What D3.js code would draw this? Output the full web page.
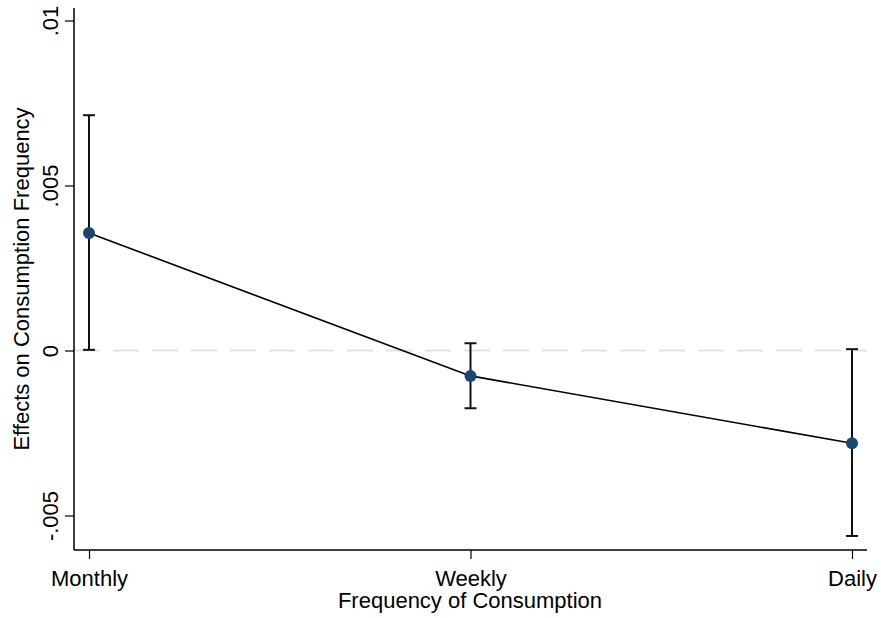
<!DOCTYPE html>
<head>
  <meta charset="utf-8">
  <script src="https://d3js.org/d3.v7.min.js"></script>
  <style>
    body { margin:0; background:#fff; }
    svg { display:block; }
    text { font-family: "Liberation Sans", Arial, sans-serif; fill:#000; }
  </style>
</head>

<body>
  <script>
    // data
    var categories = ["Monthly", "Weekly", "Daily"],
        estimates = [0.00356, -0.00077, -0.00281],
        lower = [0.00002, -0.00175, -0.00562],
        upper = [0.00713, 0.00022, 0.00004],
        yTicks = [-0.005, 0, 0.005, 0.01],
        yTickLabels = ["-.005", "0", ".005", ".01"];

    var W = 881, H = 618,
        plotLeft = 74, plotRight = 867, plotTop = 8, plotBottom = 550,
        fontSize = "22px";

    var svg = d3.select("body").append("svg")
        .attr("width", W).attr("height", H);

    var x = d3.scalePoint().domain(categories).range([89, 852]);
    var y = d3.scaleLinear().domain([-0.005, 0.01]).range([515.5, 20.5]);

    // zero reference line
    svg.append("line")
        .attr("x1", plotLeft).attr("x2", plotRight)
        .attr("y1", y(0)).attr("y2", y(0))
        .attr("stroke", "#e3e3e3").attr("stroke-width", 2)
        .attr("stroke-dasharray", "26,13");

    // axes
    var yAxis = svg.append("g").attr("transform", "translate(" + plotLeft + ",0)")
        .call(d3.axisLeft(y).tickValues(yTicks).tickSize(9).tickFormat(function(d, i){ return yTickLabels[i]; }));
    yAxis.select(".domain").remove();
    yAxis.append("line").attr("x1", 0).attr("x2", 0).attr("y1", plotTop).attr("y2", plotBottom)
        .attr("stroke", "#000").attr("stroke-width", 1.5);
    yAxis.selectAll(".tick line").attr("stroke-width", 1.2);
    yAxis.selectAll(".tick text")
        .attr("transform", "rotate(-90)")
        .attr("x", 0).attr("y", -16).attr("dy", 0)
        .attr("text-anchor", "middle")
        .attr("font-size", fontSize).style("font-size", fontSize);

    var xAxis = svg.append("g").attr("transform", "translate(0," + plotBottom + ")")
        .call(d3.axisBottom(x).tickSize(9));
    xAxis.select(".domain").remove();
    xAxis.append("line").attr("x1", plotLeft).attr("x2", plotRight).attr("y1", 0).attr("y2", 0)
        .attr("stroke", "#000").attr("stroke-width", 1.5);
    xAxis.selectAll(".tick line").attr("stroke-width", 1.2);
    xAxis.selectAll(".tick text")
        .attr("y", 36).attr("dy", 0)
        .attr("font-size", fontSize).style("font-size", fontSize);

    // titles
    svg.append("text")
        .attr("x", 470).attr("y", 608)
        .attr("text-anchor", "middle")
        .style("font-size", fontSize)
        .text("Frequency of Consumption");
    svg.append("text")
        .attr("transform", "translate(29," + ((plotTop + plotBottom) / 2) + ") rotate(-90)")
        .attr("text-anchor", "middle")
        .style("font-size", fontSize)
        .text("Effects on Consumption Frequency");

    // error bars
    var bars = svg.append("g").attr("stroke", "#111").attr("stroke-width", 2);
    categories.forEach(function(c, i){
      bars.append("line").attr("x1", x(c)).attr("x2", x(c))
          .attr("y1", y(lower[i])).attr("y2", y(upper[i]));
      [lower[i], upper[i]].forEach(function(v){
        bars.append("line").attr("x1", x(c) - 6).attr("x2", x(c) + 6)
            .attr("y1", y(v)).attr("y2", y(v));
      });
    });

    // connecting line
    var line = d3.line()
        .x(function(d, i){ return x(categories[i]); })
        .y(function(d){ return y(d); });
    svg.append("path").datum(estimates)
        .attr("d", line)
        .attr("fill", "none").attr("stroke", "#000").attr("stroke-width", 1.6);

    svg.selectAll("circle.pt").data(estimates)
      .enter().append("circle")
        .attr("class", "pt")
        .attr("cx", function(d, i){ return x(categories[i]); })
        .attr("cy", function(d){ return y(d); })
        .attr("r", 6)
        .attr("fill", "#1a476f");
  </script>
</body>

</html>
